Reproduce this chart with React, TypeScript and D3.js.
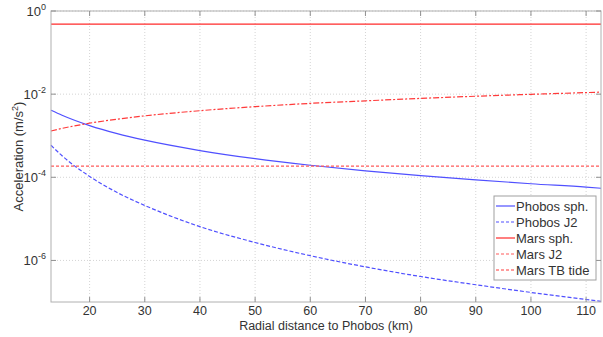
import React, { useRef, useEffect } from 'react';
import * as d3 from 'd3';

// radial distance to Phobos (km)
const distances = [13, 15, 20, 25, 30, 40, 50, 60, 70, 80, 90, 100, 110, 112.7];

// accelerations (m/s^2)
const phobosSph = [4.1e-3, 3.1e-3, 1.75e-3, 1.12e-3, 7.8e-4, 4.4e-4, 2.8e-4, 1.95e-4, 1.43e-4, 1.1e-4, 8.7e-5, 7.0e-5, 5.8e-5, 5.45e-5];
const phobosJ2 = [5.9e-4, 3.3e-4, 1.05e-4, 4.3e-5, 2.1e-5, 6.5e-6, 2.7e-6, 1.3e-6, 7.0e-7, 4.1e-7, 2.6e-7, 1.7e-7, 1.15e-7, 1.03e-7];
const marsSph = [0.486, 0.486, 0.486, 0.486, 0.486, 0.486, 0.486, 0.486, 0.486, 0.486, 0.486, 0.486, 0.486, 0.486];
const marsJ2 = [1.85e-4, 1.85e-4, 1.85e-4, 1.85e-4, 1.85e-4, 1.85e-4, 1.85e-4, 1.85e-4, 1.85e-4, 1.85e-4, 1.85e-4, 1.85e-4, 1.85e-4, 1.85e-4];
const marsTide = [1.3e-3, 1.5e-3, 2.0e-3, 2.5e-3, 3.0e-3, 4.0e-3, 5.0e-3, 6.0e-3, 6.9e-3, 7.9e-3, 8.9e-3, 9.9e-3, 1.09e-2, 1.12e-2];

const xTicks = [20, 30, 40, 50, 60, 70, 80, 90, 100, 110];
const yTickExps = [0, -2, -4, -6];

const seriesNames = ['Phobos sph.', 'Phobos J2', 'Mars sph.', 'Mars J2', 'Mars TB tide'];
const seriesValues = [phobosSph, phobosJ2, marsSph, marsJ2, marsTide];
const seriesColors = ['#5050ff', '#5050ff', '#ff2a2a', '#ff5a5a', '#ff3a3a'];
const seriesDash = ['', '4,2', '', '3,2', '6,2,2,2'];

const App = () => {
  const ref = useRef<SVGSVGElement>(null);

  useEffect(() => {
    if (!ref.current) return;
    const W = 603, H = 337;
    const margin = { top: 11, right: 2, bottom: 35, left: 51 };
    const width = W - margin.left - margin.right;
    const height = H - margin.top - margin.bottom;

    const root = d3.select(ref.current);
    root.selectAll('*').remove();
    root.attr('width', W).attr('height', H);

    const svg = root.append('g').attr('transform', `translate(${margin.left},${margin.top})`);

    const x = d3.scaleLinear().domain([13, 112.7]).range([0, width]);
    const y = d3.scaleLog().domain([1e-7, 1]).range([height, 0]);

    const font = 'Liberation Sans, Arial, sans-serif';

    // background
    svg.append('rect').attr('width', width).attr('height', height).attr('fill', 'white');

    // grid
    svg.selectAll('line.gx').data(xTicks).enter().append('line')
      .attr('x1', d => x(d)).attr('x2', d => x(d))
      .attr('y1', 0).attr('y2', height)
      .attr('stroke', '#d4d4d4').attr('stroke-dasharray', '1,2').attr('stroke-width', 1);
    svg.selectAll('line.gy').data(yTickExps).enter().append('line')
      .attr('x1', 0).attr('x2', width)
      .attr('y1', d => y(Math.pow(10, d))).attr('y2', d => y(Math.pow(10, d)))
      .attr('stroke', '#d4d4d4').attr('stroke-dasharray', '1,2').attr('stroke-width', 1);

    // lines
    const line = d3.line<[number, number]>()
      .x(d => x(d[0]))
      .y(d => y(d[1]))
      .curve(d3.curveMonotoneX);

    seriesValues.forEach((vals, i) => {
      svg.append('path')
        .datum(distances.map((r, j) => [r, vals[j]] as [number, number]))
        .attr('d', line)
        .attr('fill', 'none')
        .attr('stroke', seriesColors[i])
        .attr('stroke-width', 1.2)
        .attr('stroke-dasharray', seriesDash[i] || null);
    });

    // axis box
    svg.append('rect').attr('width', width).attr('height', height)
      .attr('fill', 'none').attr('stroke', '#b0b0b0').attr('stroke-width', 1);

    // ticks (inside, top and bottom)
    xTicks.forEach(t => {
      svg.append('line').attr('x1', x(t)).attr('x2', x(t)).attr('y1', height).attr('y2', height - 5).attr('stroke', '#909090');
      svg.append('line').attr('x1', x(t)).attr('x2', x(t)).attr('y1', 0).attr('y2', 5).attr('stroke', '#909090');
      svg.append('text').attr('x', x(t)).attr('y', height + 13)
        .attr('text-anchor', 'middle').attr('font-family', font).attr('font-size', 12.5).attr('fill', '#333')
        .text(t);
    });
    yTickExps.forEach(e => {
      const yy = y(Math.pow(10, e));
      svg.append('line').attr('x1', 0).attr('x2', 5).attr('y1', yy).attr('y2', yy).attr('stroke', '#909090');
      svg.append('line').attr('x1', width).attr('x2', width - 5).attr('y1', yy).attr('y2', yy).attr('stroke', '#909090');
      const t = svg.append('text').attr('x', -5).attr('y', yy + 5)
        .attr('text-anchor', 'end').attr('font-family', font).attr('font-size', 13).attr('fill', '#333');
      t.append('tspan').text('10');
      t.append('tspan').attr('dy', -6).attr('font-size', 9).text(e);
    });

    // axis labels
    svg.append('text').attr('x', width / 2).attr('y', height + 28)
      .attr('text-anchor', 'middle').attr('font-family', font).attr('font-size', 12.5).attr('fill', '#333')
      .text('Radial distance to Phobos (km)');
    const yl = svg.append('text')
      .attr('transform', `translate(${-28},${height / 2}) rotate(-90)`)
      .attr('text-anchor', 'middle').attr('font-family', font).attr('font-size', 13).attr('fill', '#333');
    yl.append('tspan').text('Acceleration (m/s');
    yl.append('tspan').attr('dy', -5).attr('font-size', 9).text('2');
    yl.append('tspan').attr('dy', 5).text(')');

    // legend
    const lx = 494 - margin.left, ly = 196 - margin.top;
    const lg = svg.append('g').attr('transform', `translate(${lx},${ly})`);
    lg.append('rect').attr('width', 102).attr('height', 84)
      .attr('fill', 'white').attr('stroke', '#a0a0a0');
    seriesNames.forEach((name, i) => {
      const yy = 10 + i * 16;
      lg.append('line').attr('x1', 2).attr('x2', 21).attr('y1', yy).attr('y2', yy)
        .attr('stroke', seriesColors[i]).attr('stroke-width', 1.2)
        .attr('stroke-dasharray', seriesDash[i] ? '3,2' : null);
      lg.append('text').attr('x', 22).attr('y', yy + 5)
        .attr('font-family', font).attr('font-size', 13).attr('fill', '#333')
        .text(name);
    });
  }, []);

  return <svg ref={ref} style={{ position: 'absolute', left: 0, top: 0 }} />;
};

export default App;
